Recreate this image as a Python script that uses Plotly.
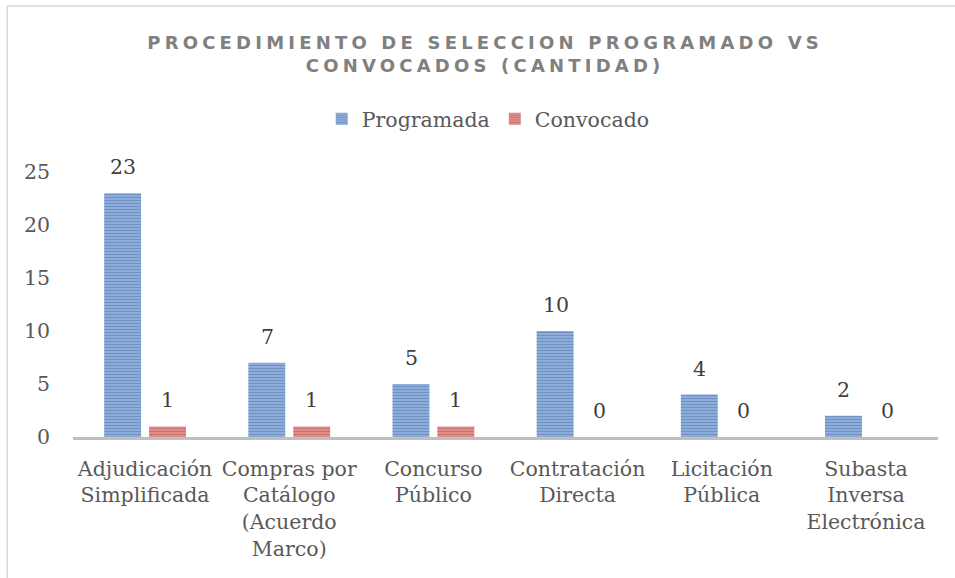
import plotly.graph_objects as go

categories = ["Adjudicación<br>Simplificada", "Compras por<br>Catálogo<br>(Acuerdo<br>Marco)",
              "Concurso<br>Público", "Contratación<br>Directa", "Licitación<br>Pública",
              "Subasta<br>Inversa<br>Electrónica"]
programada = [23, 7, 5, 10, 4, 2]
convocado = [1, 1, 1, 0, 0, 0]
y_ticks = [0, 5, 10, 15, 20, 25]

FONT = "DejaVu Serif"
FS = 20.5

fig = go.Figure()
fig.add_trace(go.Bar(
    name="Programada", x=categories, y=programada,
    marker=dict(color="#9DB9DF", line=dict(width=0),
                pattern=dict(shape="-", fgcolor="#3366AC", bgcolor="#A3BDE2",
                             size=3, solidity=0.6, fillmode="overlay")),
))
fig.add_trace(go.Bar(
    name="Convocado", x=categories, y=convocado,
    marker=dict(color="#E3A6A4", line=dict(width=0),
                pattern=dict(shape="-", fgcolor="#B8403D", bgcolor="#E4A29F",
                             size=3, solidity=0.6, fillmode="overlay")),
))

annotations = []
for cat, v in zip(categories, programada):
    annotations.append(dict(x=cat, y=v, text=str(v), showarrow=False, xshift=-22,
                            yanchor="bottom", yshift=12,
                            font=dict(family=FONT, size=FS, color="#404040")))
for cat, v in zip(categories, convocado):
    annotations.append(dict(x=cat, y=v, text=str(v), showarrow=False, xshift=22,
                            yanchor="bottom", yshift=12,
                            font=dict(family=FONT, size=FS, color="#404040")))

fig.update_layout(
    width=955, height=578,
    margin=dict(l=73, r=17, t=172, b=141, autoexpand=False),
    paper_bgcolor="white", plot_bgcolor="white",
    barmode="group", bargap=0.377, bargroupgap=0.178,
    title=dict(text="<b>PROCEDIMIENTO DE SELECCION PROGRAMADO VS<br>CONVOCADOS (CANTIDAD)</b>",
               x=0.508, xanchor="center", y=0.916, yanchor="top",
               font=dict(family="DejaVu Sans", size=18, color="#808080")),
    legend=dict(orientation="h", x=0.48, xanchor="center", y=1.2, yanchor="middle",
                font=dict(family=FONT, size=FS, color="#595959"),
                itemwidth=30, traceorder="normal"),
    showlegend=True,
    annotations=annotations,
    xaxis=dict(showline=True, linecolor="#BFBFBF", linewidth=3, showgrid=False,
               ticks="", tickfont=dict(family=FONT, size=FS, color="#595959"),
               ticklabelstandoff=11, automargin=False, fixedrange=True),
    yaxis=dict(range=[0, 25], tickvals=y_ticks, showgrid=False, zeroline=False,
               showline=False, ticks="", automargin=False, fixedrange=True,
               tickfont=dict(family=FONT, size=FS, color="#595959"),
               ticklabelstandoff=22),
    shapes=[dict(type="rect", xref="paper", yref="paper", x0=-0.076, x1=1.5,
                 y0=-1.0, y1=1.626, line=dict(color="#D9D9D9", width=1.5),
                 fillcolor="rgba(0,0,0,0)", layer="below")],
)

post = """
document.body.style.margin = '0';
document.body.style.overflow = 'hidden';
function fixTitle(){
  var t = document.querySelectorAll('.gtitle');
  t.forEach(function(e){ e.style.letterSpacing = '4.2px'; });
}
fixTitle();
var gd = document.getElementsByClassName('plotly-graph-div')[0];
if (gd && gd.on) { gd.on('plotly_afterplot', fixTitle); }
"""

fig.write_html("out.html", post_script=post, config={"displayModeBar": False})
